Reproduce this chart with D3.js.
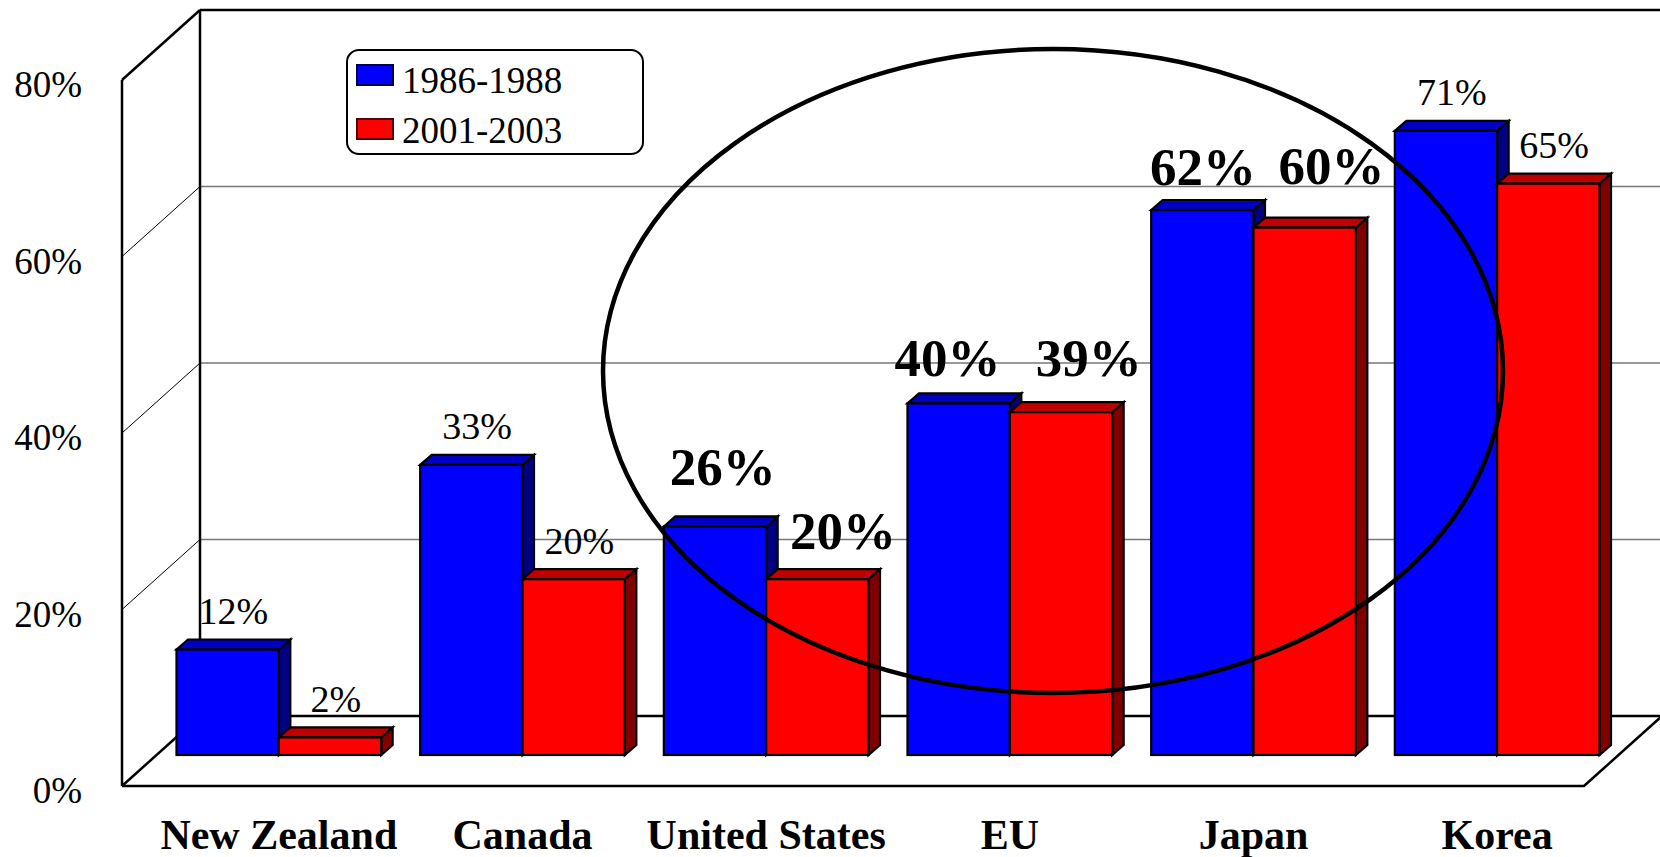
<!DOCTYPE html>
<html>
<head>
<meta charset="utf-8">
<script src="https://cdn.jsdelivr.net/npm/d3@7"></script>
<style>
  html, body { margin: 0; padding: 0; background: #ffffff; }
  svg { display: block; }
  text { font-family: "Liberation Serif", "Times New Roman", "DejaVu Serif", serif; fill: #000; }
</style>
</head>
<body>
<svg id="chart" width="1660" height="857"></svg>
<script>
// Data
const categories = ["New Zealand", "Canada", "United States", "EU", "Japan", "Korea"];
const seriesNames = ["1986-1988", "2001-2003"];
const values1986 = [12, 33, 26, 40, 62, 71];
const values2001 = [2, 20, 20, 39, 60, 65];
const tickValues = [0, 20, 40, 60, 80];
const tickLabels = ["0%", "20%", "40%", "60%", "80%"];
const highlighted = ["United States", "EU", "Japan"];

// Styling
const frontFill = ["#0000ff", "#ff0000"];
const topFill = ["#0000c0", "#c00000"];
const sideFill = ["#000080", "#800000"];
const legendStroke = ["#000050", "#500000"];

// Hand placement of the large bold labels [dx, dy] relative to the default spot
const labelNudge = {
  "United States": [[2, -16], [20, -5]],
  "EU": [[-17, -2], [22, -11]],
  "Japan": [[-5, 0], [21, -18]]
};

const svg = d3.select("#chart");
svg.append("rect").attr("width", 1660).attr("height", 857).attr("fill", "#fff");

// 3D box geometry
const frontLeft = 122, frontRight = 1584;
const depth = { dx: 78, dy: -70 };      // floor / wall depth
const barPlane = { dx: 35, dy: -31 };   // where bar fronts stand
const barDepth = { dx: 11.5, dy: -10 };

// value scale on the front edge of the box (walls, ticks)
const y = d3.scaleLinear().domain([0, 80]).range([786, 80]);
// value scale on the plane the bars stand in
const yBar = d3.scaleLinear().domain([0, 80]).range([786 + barPlane.dy, 786 + barPlane.dy - 80 * 8.79]);

const x0 = d3.scaleBand().domain(categories)
  .range([frontLeft + barPlane.dx, frontRight + barPlane.dx])
  .paddingInner(0.16).paddingOuter(0.08);
const x1 = d3.scaleBand().domain(seriesNames).range([0, x0.bandwidth()]);

const walls = svg.append("g");
const backLeft = frontLeft + depth.dx, backRight = frontRight + depth.dx;

// back wall gridlines and left wall diagonals
tickValues.forEach(v => {
  const edge = v === 0 || v === 80;
  walls.append("line")
    .attr("x1", backLeft).attr("x2", 1700)
    .attr("y1", y(v) + depth.dy).attr("y2", y(v) + depth.dy)
    .attr("stroke", edge ? "#000" : "#777")
    .attr("stroke-width", edge ? 2.5 : 1.3);
  walls.append("line")
    .attr("x1", frontLeft).attr("y1", y(v))
    .attr("x2", backLeft).attr("y2", y(v) + depth.dy)
    .attr("stroke", "#000")
    .attr("stroke-width", edge ? 2.5 : 1);
});
// wall verticals
walls.append("line").attr("x1", frontLeft).attr("x2", frontLeft)
  .attr("y1", y(80)).attr("y2", y(0)).attr("stroke", "#000").attr("stroke-width", 2.5);
walls.append("line").attr("x1", backLeft).attr("x2", backLeft)
  .attr("y1", y(80) + depth.dy).attr("y2", y(0) + depth.dy).attr("stroke", "#000").attr("stroke-width", 2.5);
// floor outline
walls.append("path")
  .attr("d", `M${frontLeft},${y(0)} L${frontRight},${y(0)} L${backRight},${y(0) + depth.dy}`)
  .attr("fill", "none").attr("stroke", "#000").attr("stroke-width", 2.5);

// Y tick labels
svg.append("g").selectAll("text").data(tickValues).join("text")
  .attr("x", 82).attr("y", d => y(d) + 17)
  .attr("text-anchor", "end")
  .attr("font-size", 37)
  .text((d, i) => tickLabels[i]);

// Bars
const bars = [];
categories.forEach((c, ci) => {
  [values1986[ci], values2001[ci]].forEach((v, si) => {
    bars.push({ cat: c, s: si, value: v });
  });
});

const barG = svg.append("g");
bars.forEach(b => {
  const xa = x0(b.cat) + x1(seriesNames[b.s]);
  const xb = xa + x1.bandwidth();
  const yt = yBar(b.value);
  const yb = yBar(0);
  const g = barG.append("g")
    .attr("stroke", "#000").attr("stroke-width", 2.2).attr("stroke-linejoin", "miter");
  g.append("path")
    .attr("d", `M${xb},${yt} L${xb + barDepth.dx},${yt + barDepth.dy} L${xb + barDepth.dx},${yb + barDepth.dy} L${xb},${yb} Z`)
    .attr("fill", sideFill[b.s]);
  g.append("path")
    .attr("d", `M${xa},${yt} L${xa + barDepth.dx},${yt + barDepth.dy} L${xb + barDepth.dx},${yt + barDepth.dy} L${xb},${yt} Z`)
    .attr("fill", topFill[b.s]);
  g.append("rect")
    .attr("x", xa).attr("y", yt).attr("width", xb - xa).attr("height", yb - yt)
    .attr("fill", frontFill[b.s]);
  b.cx = (xa + xb) / 2 + barDepth.dx / 2;
  b.top = yt + barDepth.dy;
});

// Value labels
const labelG = svg.append("g");
bars.forEach(b => {
  const bold = highlighted.includes(b.cat);
  const nudge = bold ? labelNudge[b.cat][b.s] : [0, 0];
  labelG.append("text")
    .attr("x", b.cx + nudge[0])
    .attr("y", b.top - 15.5 + nudge[1])
    .attr("text-anchor", "middle")
    .attr("font-size", bold ? 53 : 38)
    .attr("font-weight", bold ? "bold" : "normal")
    .text(b.value + "%");
});

// Category labels
svg.append("g").selectAll("text").data(categories).join("text")
  .attr("x", d => x0(d) + x0.bandwidth() / 2)
  .attr("y", 849)
  .attr("text-anchor", "middle")
  .attr("font-size", 42)
  .attr("font-weight", "bold")
  .text(d => d);

// Highlight ellipse
svg.append("ellipse")
  .attr("cx", 1053).attr("cy", 371).attr("rx", 450).attr("ry", 322)
  .attr("fill", "none").attr("stroke", "#000").attr("stroke-width", 4.5);

// Legend
const legend = svg.append("g");
legend.append("rect")
  .attr("x", 347).attr("y", 50).attr("width", 296).attr("height", 104)
  .attr("rx", 12).attr("ry", 12)
  .attr("fill", "#fff").attr("stroke", "#000").attr("stroke-width", 2);
seriesNames.forEach((name, i) => {
  legend.append("rect")
    .attr("x", 357).attr("y", 65 + i * 54).attr("width", 36).attr("height", 20)
    .attr("fill", frontFill[i]).attr("stroke", legendStroke[i]).attr("stroke-width", 2);
  legend.append("text")
    .attr("x", 402).attr("y", 93 + i * 50)
    .attr("font-size", 37)
    .text(name);
});
</script>
</body>
</html>
